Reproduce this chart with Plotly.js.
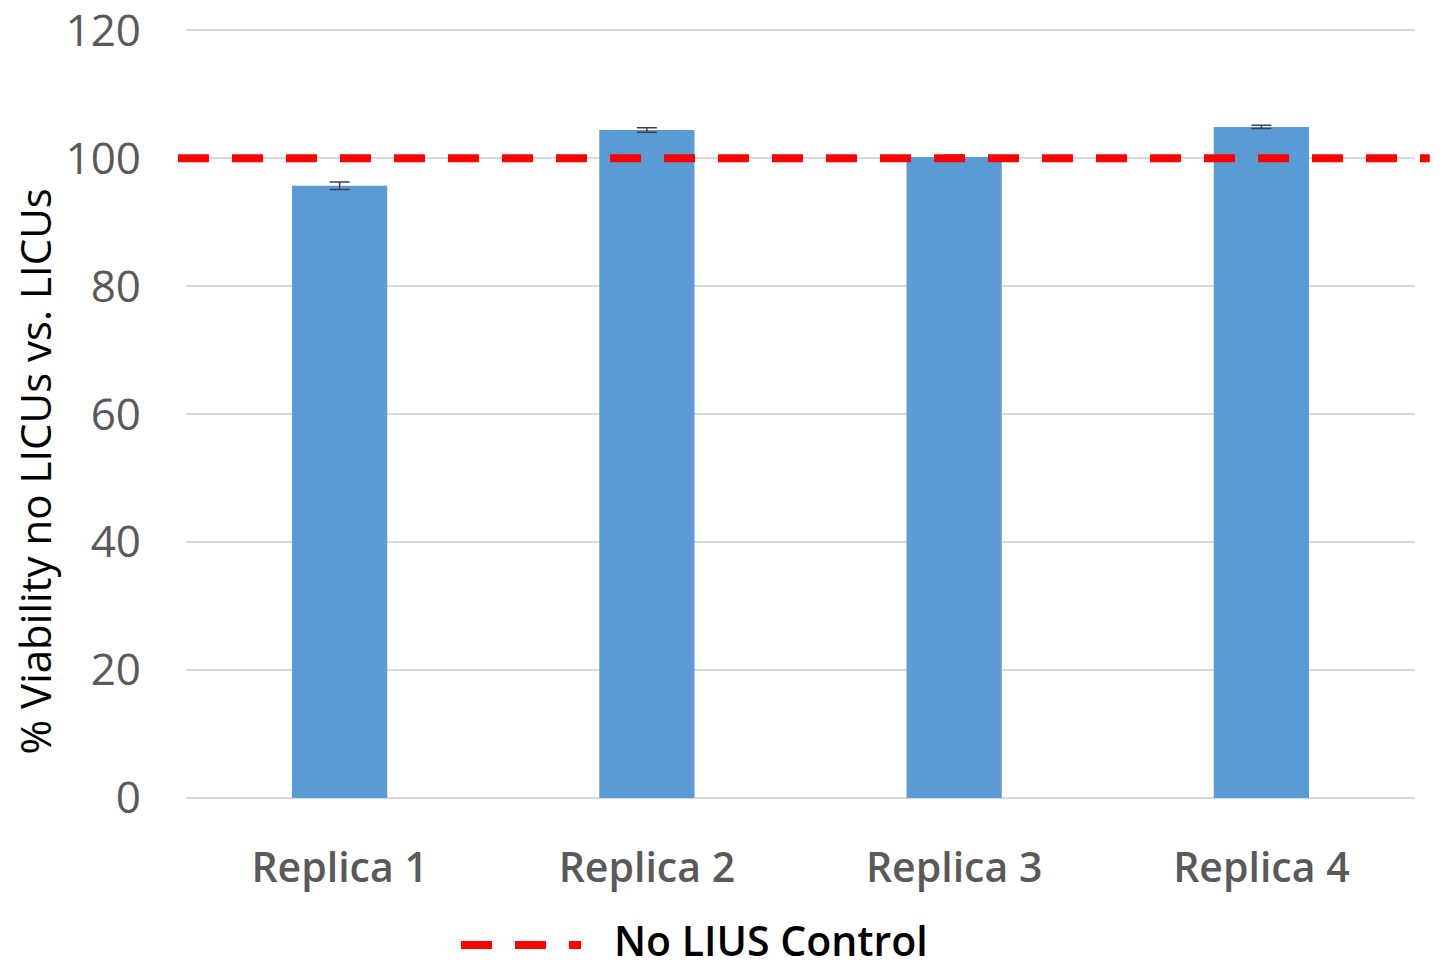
<!DOCTYPE html>
<html>
<head>
<meta charset="utf-8">
<script src="https://cdn.plot.ly/plotly-3.0.1.min.js"></script>
<style>html,body{margin:0;padding:0;background:#fff;}#chart{width:1446px;height:971px;}</style>
</head>
<body>
<div id="chart"></div>
<script>
const categories = ["Replica 1", "Replica 2", "Replica 3", "Replica 4"];
const viability = [95.7, 104.4, 100.2, 104.9];
const errors = [0.6, 0.35, 0.25, 0.25];
const controlLevel = 100;
const controlName = "No LIUS Control";
const yTitle = "% Viability no LICUs vs. LICUs";
const yTicks = [0, 20, 40, 60, 80, 100, 120];

const fontFamily = "'Open Sans', 'Noto Sans', sans-serif";

const bars = {
  type: 'bar',
  x: categories,
  y: viability,
  marker: {color: '#5b9bd5'},
  width: 0.31,
  error_y: {type: 'data', array: errors, visible: true, color: '#404040', thickness: 1.5, width: 10},
  showlegend: false,
  hoverinfo: 'x+y'
};

const layout = {
  width: 1446,
  height: 971,
  margin: {l: 186, r: 31, t: 29, b: 173},
  paper_bgcolor: '#ffffff',
  plot_bgcolor: '#ffffff',
  showlegend: false,
  xaxis: {
    type: 'category',
    showgrid: false,
    showline: false,
    zeroline: false,
    ticks: '',
    ticklabelstandoff: 42,
    tickfont: {family: fontFamily, size: 41, color: '#595959', weight: 600}
  },
  yaxis: {
    range: [0, 120.2],
    tickvals: yTicks,
    showgrid: true,
    gridcolor: '#d9d9d9',
    gridwidth: 2,
    zeroline: true,
    zerolinecolor: '#d9d9d9',
    zerolinewidth: 2,
    showline: false,
    ticks: '',
    ticklabelstandoff: 44,
    ticklabeloverflow: 'allow',
    tickfont: {family: fontFamily, size: 44, color: '#595959'}
  },
  shapes: [
    {
      type: 'line', xref: 'paper', yref: 'y',
      x0: -0.0065, x1: 1.012, y0: controlLevel, y1: controlLevel,
      line: {color: '#ff0000', width: 8, dash: '31px,23px'}
    },
    {
      type: 'line', xref: 'paper', yref: 'paper',
      x0: 0.2238, x1: 0.3214, y0: -0.191, y1: -0.191,
      line: {color: '#ff0000', width: 8, dash: '31px,23px'}
    }
  ],
  annotations: [
    {
      text: controlName, xref: 'paper', yref: 'paper',
      x: 0.3474, y: -0.1849, xanchor: 'left', yanchor: 'middle',
      showarrow: false, borderpad: 0,
      font: {family: fontFamily, size: 41, color: '#000000', weight: 600}
    },
    {
      text: yTitle, xref: 'paper', yref: 'paper',
      x: -0.1229, y: 0.4245, xanchor: 'center', yanchor: 'middle',
      textangle: -90, showarrow: false,
      font: {family: fontFamily, size: 42, color: '#000000'}
    }
  ]
};

Plotly.newPlot('chart', [bars], layout, {displayModeBar: false, staticPlot: true});
</script>
</body>
</html>
